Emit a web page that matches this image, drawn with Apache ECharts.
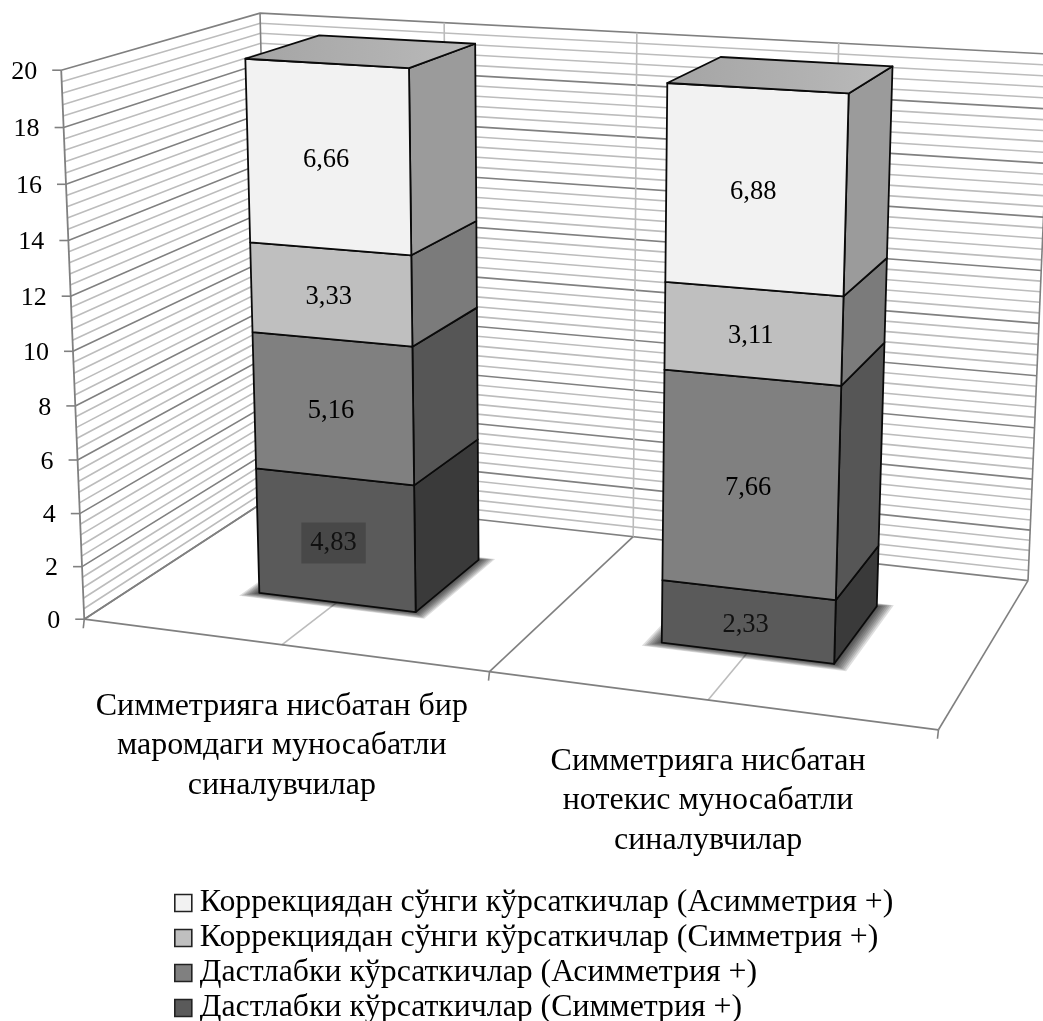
<!DOCTYPE html>
<html><head><meta charset="utf-8">
<style>html,body{margin:0;padding:0;background:#fff}#c{width:1043px;height:1021px}</style>
<script src="https://cdn.jsdelivr.net/npm/echarts@6/dist/echarts.min.js"></script>
</head><body><div id="c"></div>
<script>
const categories=['Симметрияга нисбатан бир\nмаромдаги муносабатли\nсиналувчилар','Симметрияга нисбатан\nнотекис муносабатли\nсиналувчилар'];
const initialSym=[4.83,2.33];
const initialAsym=[5.16,7.66];
const correctedSym=[3.33,3.11];
const correctedAsym=[6.66,6.88];
const tickValues=[0,2,4,6,8,10,12,14,16,18,20];
const nameInitialSym='Дастлабки кўрсаткичлар (Симметрия +)';
const nameInitialAsym='Дастлабки кўрсаткичлар (Асимметрия +)';
const nameCorrectedSym='Коррекциядан сўнги кўрсаткичлар (Симметрия +)';
const nameCorrectedAsym='Коррекциядан сўнги кўрсаткичлар (Асимметрия +)';

// camera calibration: model (category units, value fraction, depth) -> page
const anchors=[[0,0,0,86,618],[1,0,0,488,671],[2,0,0,938,730],[0,0,1,271.5,497],[1,0,1,632,537],[2,0,1,1029,581],
 [0,1,0,60.5,71],[0,1,0,60.5,71],[0,1,1,260,13],[1,1,1,640,32.5],[2,1,1,1044,53],
 [.3,0,.3,259.3,592.3],[.7,0,.3,415.3,611.5],[.7,0,.7,479,560],[1.3,0,.3,661,642.7],[1.7,0,.3,834.3,664.7],[1.7,0,.7,878.3,606.7],
 [.3,.999,.3,244.3,59],[.7,.999,.3,408.3,68.3],[.7,.999,.7,475.3,44],[.3,.999,.7,319,35],
 [1.3,.999,.3,667.7,83.3],[1.7,.999,.3,850.7,93.3],[1.7,.999,.7,895,66],[1.3,.999,.7,722.3,56.7]];
function solve(A,b){const n=b.length;A=A.map((r,i)=>[...r,b[i]]);
 for(let i=0;i<n;i++){let p=i;for(let k=i+1;k<n;k++)if(Math.abs(A[k][i])>Math.abs(A[p][i]))p=k;[A[i],A[p]]=[A[p],A[i]];
  for(let k=0;k<n;k++){if(k==i)continue;const f=A[k][i]/A[i][i];for(let j=i;j<=n;j++)A[k][j]-=f*A[i][j];}}
 return A.map((r,i)=>r[n]/r[i]);}
const cam=(()=>{const rows=[],rhs=[];anchors.forEach(([X,Y,Z,u,v])=>{u/=1000;v/=1000;
  rows.push([X,Y,Z,1,0,0,0,0,-u*X,-u*Y,-u*Z]);rhs.push(u);rows.push([0,0,0,0,X,Y,Z,1,-v*X,-v*Y,-v*Z]);rhs.push(v);});
 const N=Array.from({length:11},(_,i)=>Array.from({length:11},(_,j)=>rows.reduce((s,r)=>s+r[i]*r[j],0)));
 const m=Array.from({length:11},(_,i)=>rows.reduce((s,r,k)=>s+r[i]*rhs[k],0));return solve(N,m);})();
function project(X,Y,Z){const w=cam[8]*X+cam[9]*Y+cam[10]*Z+1;
 return [1000*(cam[0]*X+cam[1]*Y+cam[2]*Z+cam[3])/w,1000*(cam[4]*X+cam[5]*Y+cam[6]*Z+cam[7])/w];}

const barHalf=0.2, depthFront=0.3, depthBack=0.7;
const FONT='"Liberation Serif"';
function mapper(api,params){const cs=params.coordSys,band=cs.width/categories.length;
 return (i,frac,val,z)=>{const c=api.coord([i,val]);
  return project((c[0]-cs.x)/band+frac,(cs.y+cs.height-c[1])/cs.height,z);};}
function seg(p,a,b,stroke,w){return {type:'polyline',silent:true,shape:{points:[a,b]},style:{stroke,lineWidth:w,fill:null}};}
const MAJOR='#808080',MINOR='#bcbcbc';
function renderFrame(params,api){const P=mapper(api,params),ch=[];
 const n=Math.round(20/0.4);
 for(let k=0;k<=n;k++){const v=k*0.4,major=k%5===0;const col=major?MAJOR:MINOR,w=1.6;
  ch.push({type:'polyline',shape:{points:[P(0,-0.5,v,0),P(0,-0.5,v,1),P(0,1.5,v,1)]},style:{stroke:col,lineWidth:w,fill:null}});}
 [0,0.5,1,1.5,2].forEach(f=>{const col=(f%1===0)?MAJOR:MINOR;
  ch.push(seg(0,P(0,f-0.5,0,1),P(0,f-0.5,20,1),f===0||f===2?MAJOR:MINOR,1.6));
  ch.push(seg(0,P(0,f-0.5,0,0),P(0,f-0.5,0,1),col,1.6));});
 ch.push(seg(0,P(0,-0.5,0,0),P(0,1.5,0,0),MAJOR,1.8));
 ch.push(seg(0,P(0,-0.5,0,0),P(0,-0.5,20,0),MAJOR,1.8));
 tickValues.forEach(v=>{const a=P(0,-0.5,v,0);
  ch.push({type:'polyline',shape:{points:[[a[0]-9,a[1]],a]},style:{stroke:MAJOR,lineWidth:1.6,fill:null}});
  ch.push({type:'text',style:{x:a[0]-24,y:a[1]+2,text:String(v),align:'right',verticalAlign:'middle',fontFamily:FONT,fontSize:26,fill:'#000'}});});
 [0,1,2].forEach(f=>{const a=P(0,f-0.5,0,0);ch.push({type:'polyline',shape:{points:[a,[a[0]-1,a[1]+9]]},style:{stroke:MAJOR,lineWidth:1.6,fill:null}});});
 categories.forEach((c,i)=>{const a=P(i,0,0,0);
  ch.push({type:'text',style:{x:a[0],y:a[1]+101,text:c,align:'center',verticalAlign:'middle',fontFamily:FONT,fontSize:32,lineHeight:39.5,fill:'#000'}});});
 return {type:'group',children:ch};}
function renderShadow(params,api){const i=api.value(0),P=mapper(api,params),ch=[];
 for(let k=8;k>=1;k--){const e=k/8,hx=barHalf+0.036*e,f=depthFront-0.035*e,b=depthBack+0.02*e;
  ch.push({type:'polygon',shape:{points:[P(i,-hx,0,f),P(i,hx,0,f),P(i,hx,0,b),P(i,-hx,0,b)]},style:{fill:'rgba(0,0,0,0.13)'}});}
 return {type:'group',children:ch};}
function makeRender(front,side,isTop,labelBg){return function(params,api){
 const i=api.value(0),lo=api.value(1),hi=api.value(2),val=api.value(3),P=mapper(api,params);
 const h=barHalf,zf=depthFront,zb=depthBack;
 const st=(fill)=>({fill,stroke:'#0a0a0a',lineWidth:1.8,lineJoin:'round'});
 const ch=[
  {type:'polygon',shape:{points:[P(i,h,lo,zf),P(i,h,lo,zb),P(i,h,hi,zb),P(i,h,hi,zf)]},style:st(side)},
  {type:'polygon',shape:{points:[P(i,-h,lo,zf),P(i,h,lo,zf),P(i,h,hi,zf),P(i,-h,hi,zf)]},style:st(front)}];
 if(isTop)ch.push({type:'polygon',shape:{points:[P(i,-h,hi,zf),P(i,h,hi,zf),P(i,h,hi,zb),P(i,-h,hi,zb)]},
  style:st({type:'linear',x:0,y:0,x2:1,y2:0,colorStops:[{offset:0,color:'#a4a4a4'},{offset:1,color:'#bababa'}]})});
 const c=P(i,0,(lo+hi)/2,zf);
 const t={x:c[0]-2,y:c[1]+3,text:val.toFixed(2).replace('.',','),align:'center',verticalAlign:'middle',fontFamily:FONT,fontSize:26.5,fill:front==='#5a5a5a'?'#111':'#000'};
 if(labelBg&&labelBg[i]){t.backgroundColor=labelBg[i];t.padding=[7,9];}
 ch.push({type:'text',style:t});
 return {type:'group',children:ch};};}
let base=[0,0];
function stackData(vals){const d=vals.map((v,i)=>[i,base[i],base[i]+v,v]);base=base.map((b,i)=>b+vals[i]);return d;}
function barSeries(name,vals,front,side,isTop,labelBg){return {type:'custom',name,coordinateSystem:'cartesian2d',clip:false,silent:true,
  renderItem:makeRender(front,side,isTop,labelBg),data:stackData(vals),itemStyle:{color:front},encode:{x:0,y:2},z:5};}
const chart=echarts.init(document.getElementById('c'),null,{renderer:'canvas'});
chart.setOption({animation:false,backgroundColor:'#fff',
 grid:{left:100,right:100,top:100,bottom:100},
 xAxis:{type:'category',data:categories,show:false},
 yAxis:{type:'value',min:0,max:20,interval:2,show:false},
 legend:{orient:'vertical',left:169,top:882,height:139,icon:'rect',itemWidth:17,itemHeight:17,itemGap:3,selectedMode:false,
  data:[nameCorrectedAsym,nameCorrectedSym,nameInitialAsym,nameInitialSym],
  itemStyle:{borderColor:'#222',borderWidth:1.6},
  textStyle:{fontFamily:FONT,fontSize:31.8,color:'#000',padding:[0,0,0,3]}},
 series:[
  {type:'custom',name:'frame',coordinateSystem:'cartesian2d',clip:false,silent:true,renderItem:renderFrame,data:[[0,0]],encode:{x:0,y:1},z:1},
  {type:'custom',name:'shadow',coordinateSystem:'cartesian2d',clip:false,silent:true,renderItem:renderShadow,data:categories.map((c,i)=>[i,0]),encode:{x:0,y:1},z:2},
  barSeries(nameInitialSym,initialSym,'#5a5a5a','#3a3a3a',false,['#484848',null]),
  barSeries(nameInitialAsym,initialAsym,'#808080','#565656',false),
  barSeries(nameCorrectedSym,correctedSym,'#bfbfbf','#7b7b7b',false),
  barSeries(nameCorrectedAsym,correctedAsym,'#f2f2f2','#9b9b9b',true)
 ]});
</script></body></html>
